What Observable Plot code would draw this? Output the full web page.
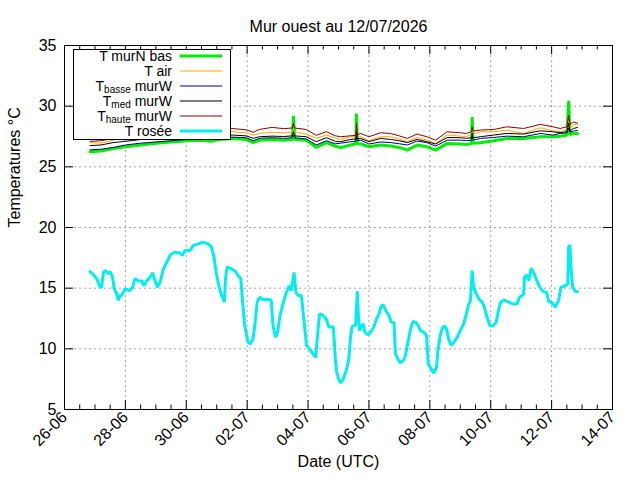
<!DOCTYPE html>
<html>
<head>
<meta charset="utf-8">
<script src="https://cdn.jsdelivr.net/npm/d3@7"></script>
<script src="https://cdn.jsdelivr.net/npm/@observablehq/plot@0.6"></script>
<style>
  html, body { margin: 0; padding: 0; background: white; }
</style>
</head>
<body>
<div id="chart"></div>
<script>
// ---------- DATA ----------
const titleText = "Mur ouest au 12/07/2026";
const xLabel = "Date (UTC)";
const yLabel = "Temperatures °C";

// days since 26-06-2026 00:00 UTC
const xTickDays = [0, 2, 4, 6, 8, 10, 12, 14, 16, 18];
const xTickLabels = ["26-06", "28-06", "30-06", "02-07", "04-07", "06-07", "08-07", "10-07", "12-07", "14-07"];
const yTicks = [5, 10, 15, 20, 25, 30, 35];

// Wall / air temperatures share one time base
const wallDays = [0.84, 1.2, 1.6, 2.0, 2.5, 3.0, 3.5, 4.0, 4.5, 4.8,
  5.1, 5.5, 5.97, 6.2, 6.4, 6.82, 7.2, 7.48, 7.52, 7.56,
  7.94, 8.27, 8.6, 8.9, 9.07, 9.4, 9.57, 9.59, 9.62, 9.73,
  10.0, 10.38, 10.71, 11.0, 11.26, 11.58, 11.9, 12.19, 12.57, 13.0,
  13.2, 13.37, 13.39, 13.42, 13.66, 14.1, 14.53, 15.08, 15.63, 16.04,
  16.28, 16.5, 16.56, 16.6, 16.72, 16.85];

const tMurNBas = [26.25, 26.3, 26.5, 26.65, 26.8, 26.95, 27.05, 27.15, 27.2, 27.1,
  27.25, 27.34, 27.26, 27.0, 27.2, 27.26, 27.2, 27.26, 29.2, 27.26,
  27.2, 26.6, 27.0, 26.7, 26.6, 26.8, 26.9, 29.4, 26.9, 26.88,
  26.66, 26.8, 26.71, 26.6, 26.38, 26.8, 26.66, 26.38, 26.93, 26.88,
  26.85, 26.9, 29.1, 26.95, 26.99, 27.15, 27.34, 27.34, 27.48, 27.48,
  27.53, 27.6, 30.44, 27.65, 27.75, 27.75];

const tAir = [27.0, 26.95, 27.2, 27.4, 27.5, 27.65, 27.8, 27.85, 27.9, 27.75,
  27.9, 27.9, 27.8, 27.6, 27.75, 27.85, 27.8, 27.85, 28.0, 27.85,
  27.7, 27.34, 27.62, 27.35, 27.26, 27.48, 27.5, 27.7, 27.5, 27.48,
  27.15, 27.48, 27.48, 27.3, 27.07, 27.42, 27.2, 26.93, 27.62, 27.53,
  27.5, 27.7, 27.9, 27.7, 27.89, 27.89, 28.03, 27.75, 28.22, 27.97,
  27.89, 28.1, 28.8, 28.15, 28.5, 28.45];

const tBasseMurW = [26.4, 26.45, 26.6, 26.8, 26.95, 27.05, 27.15, 27.25, 27.35, 27.25,
  27.4, 27.45, 27.4, 27.15, 27.35, 27.4, 27.35, 27.4, 27.6, 27.4,
  27.3, 26.8, 27.15, 26.9, 26.95, 27.07, 27.1, 27.5, 27.15, 27.2,
  26.88, 27.05, 27.0, 26.9, 26.8, 27.12, 27.0, 26.71, 27.2, 27.2,
  27.15, 27.2, 27.5, 27.2, 27.34, 27.42, 27.53, 27.48, 27.75, 27.62,
  27.75, 27.8, 28.2, 27.85, 27.95, 28.0];

const tMedMurW = [26.75, 26.8, 27.0, 27.1, 27.25, 27.35, 27.45, 27.55, 27.6, 27.5,
  27.6, 27.62, 27.55, 27.35, 27.48, 27.53, 27.5, 27.55, 27.9, 27.55,
  27.48, 27.07, 27.4, 27.1, 27.07, 27.26, 27.3, 27.9, 27.3, 27.34,
  27.07, 27.34, 27.26, 27.15, 27.0, 27.26, 27.07, 26.88, 27.42, 27.4,
  27.35, 27.4, 27.8, 27.4, 27.48, 27.62, 27.75, 27.7, 27.97, 27.89,
  27.81, 27.9, 28.6, 27.95, 28.16, 28.25];

const tHauteMurW = [27.1, 27.15, 27.35, 27.5, 27.7, 27.85, 28.0, 28.05, 28.1, 28.0,
  28.15, 28.16, 28.05, 27.85, 28.08, 28.25, 28.15, 28.2, 28.6, 28.2,
  28.08, 27.6, 27.9, 27.55, 27.48, 27.56, 27.6, 28.6, 27.65, 27.75,
  27.48, 27.81, 27.75, 27.55, 27.34, 27.7, 27.48, 27.2, 27.89, 27.81,
  27.75, 27.9, 28.3, 27.95, 28.03, 28.08, 28.3, 28.16, 28.5, 28.3,
  28.16, 28.3, 29.26, 28.5, 28.7, 28.6];

// Dew point has its own time base
const roseeDays = [0.84, 0.95, 1.06, 1.17, 1.22, 1.28, 1.33, 1.44, 1.5, 1.58,
  1.63, 1.72, 1.76, 1.83, 1.88, 1.99, 2.15, 2.24, 2.32, 2.43,
  2.54, 2.61, 2.7, 2.81, 2.9, 2.95, 3.05, 3.14, 3.25, 3.36,
  3.47, 3.63, 3.79, 3.87, 3.96, 4.12, 4.23, 4.39, 4.54, 4.72,
  4.83, 4.91, 5.0, 5.08, 5.16, 5.25, 5.29, 5.34, 5.48, 5.62,
  5.7, 5.79, 5.85, 5.92, 6.03, 6.1, 6.19, 6.25, 6.33, 6.41,
  6.52, 6.69, 6.79, 6.85, 6.93, 7.0, 7.07, 7.16, 7.27, 7.38,
  7.45, 7.54, 7.6, 7.67, 7.78, 7.86, 7.95, 8.05, 8.16, 8.25,
  8.33, 8.38, 8.49, 8.6, 8.68, 8.83, 8.9, 8.94, 9.02, 9.07,
  9.16, 9.23, 9.29, 9.34, 9.4, 9.45, 9.56, 9.62, 9.65, 9.69,
  9.75, 9.81, 9.87, 9.97, 10.05, 10.16, 10.25, 10.33, 10.4, 10.47,
  10.55, 10.66, 10.73, 10.82, 10.87, 10.95, 11.02, 11.13, 11.2, 11.28,
  11.37, 11.45, 11.53, 11.62, 11.69, 11.8, 11.89, 11.95, 12.04, 12.13,
  12.22, 12.26, 12.33, 12.4, 12.48, 12.55, 12.62, 12.7, 12.79, 12.9,
  13.0, 13.11, 13.2, 13.28, 13.33, 13.39, 13.44, 13.5, 13.61, 13.72,
  13.79, 13.88, 13.97, 14.07, 14.18, 14.24, 14.32, 14.43, 14.59, 14.73,
  14.86, 14.95, 15.03, 15.08, 15.11, 15.19, 15.25, 15.33, 15.41, 15.52,
  15.61, 15.72, 15.83, 15.91, 16.01, 16.12, 16.23, 16.31, 16.45, 16.53,
  16.56, 16.6, 16.64, 16.69, 16.78, 16.85];

const tRosee = [16.37, 16.1, 15.77, 15.08, 15.1, 16.3, 16.46, 16.2, 16.37, 15.9,
  14.95, 14.5, 14.0, 14.4, 14.4, 14.95, 14.8, 15.08, 15.8, 15.6,
  15.6, 15.2, 15.6, 15.9, 16.26, 15.77, 15.08, 15.5, 16.6, 17.14,
  17.75, 17.97, 17.9, 17.7, 18.1, 18.1, 18.5, 18.65, 18.8, 18.65,
  18.4, 17.55, 16.04, 15.08, 14.4, 13.85, 15.77, 16.73, 16.6, 16.37,
  16.04, 15.8, 13.85, 11.9, 10.55, 10.4, 10.8, 11.9, 13.85, 14.26,
  14.07, 14.07, 14.0, 11.9, 10.96, 11.37, 12.6, 13.57, 14.53, 15.2,
  14.8, 16.3, 14.67, 14.4, 14.4, 12.47, 10.27, 10.0, 9.59, 9.3,
  11.65, 12.88, 12.75, 12.47, 11.8, 11.8, 9.1, 8.08, 7.4, 7.2,
  7.53, 8.02, 8.6, 9.17, 11.1, 11.87, 11.92, 14.75, 12.9, 11.5,
  11.8, 12.06, 11.37, 11.15, 11.37, 11.8, 12.47, 12.88, 13.5, 13.63,
  13.16, 12.75, 12.2, 12.2, 9.6, 9.17, 8.85, 9.04, 9.45, 10.55,
  11.65, 12.25, 12.2, 11.92, 11.5, 11.37, 11.1, 8.76, 8.35, 8.0,
  8.5, 9.7, 10.96, 11.65, 11.9, 11.65, 10.8, 10.27, 10.55, 10.96,
  11.5, 12.06, 12.9, 13.7, 13.9, 16.45, 15.08, 14.67, 14.12, 13.85,
  13.43, 12.6, 11.92, 11.87, 12.2, 13.0, 13.8, 14.04, 13.85, 13.7,
  13.7, 14.26, 14.4, 14.53, 15.9, 16.1, 15.6, 16.65, 16.26, 15.6,
  15.08, 14.73, 14.67, 13.9, 13.8, 13.43, 14.0, 15.08, 15.2, 15.36,
  18.38, 18.57, 16.6, 15.08, 14.73, 14.73];

// ---------- BUILD ----------
const base = Date.UTC(2026, 5, 26);
const toDate = d => new Date(base + d * 864e5);
const xTicks = xTickDays.map(toDate);
const minorTicks = d3.range(0, 18.01, 0.5).filter(d => d % 2 !== 0).map(toDate);

const series = [
  {name: "murN", days: wallDays, vals: tMurNBas,   color: "#00ee00", w: 3},
  {name: "air",  days: wallDays, vals: tAir,       color: "#ffa500", w: 1},
  {name: "basse",days: wallDays, vals: tBasseMurW, color: "#000080", w: 1},
  {name: "med",  days: wallDays, vals: tMedMurW,   color: "#000000", w: 1},
  {name: "haute",days: wallDays, vals: tHauteMurW, color: "#8b0000", w: 1},
  {name: "rosee",days: roseeDays, vals: tRosee,    color: "#00eeee", w: 3}
];

const lineMarks = series.map(s => Plot.line(
  s.days.map((d, i) => ({date: toDate(d), v: s.vals[i]})),
  {x: "date", y: "v", stroke: s.color, strokeWidth: s.w, strokeLinejoin: "miter"}
));

const W = 640, H = 480, ML = 64, MR = 28, MT = 45, MB = 71;
const FW = W - ML - MR, FH = H - MT - MB;
const gridStyle = {stroke: "#a0a0a0", strokeOpacity: 1, strokeWidth: 1, strokeDasharray: "2,3"};

const svg = Plot.plot({
  width: W, height: H,
  marginLeft: ML, marginRight: MR, marginTop: MT, marginBottom: MB,
  style: {fontFamily: "'Liberation Sans', Arial, sans-serif", fontSize: "16px", background: "white", color: "black"},
  x: {type: "utc", domain: [toDate(0), toDate(18)]},
  y: {domain: [5, 35]},
  marks: [
    Plot.gridX(xTicks, gridStyle),
    Plot.gridY(yTicks, gridStyle),
    ...lineMarks,
    Plot.frame({stroke: "black", strokeWidth: 1}),
    // major ticks (inward, mirrored)
    Plot.tickX(xTicks, {x: d => d, stroke: "black", insetTop: FH - 9}),
    Plot.tickX(xTicks, {x: d => d, stroke: "black", insetBottom: FH - 9}),
    Plot.tickX(minorTicks, {x: d => d, stroke: "black", insetTop: FH - 4.5}),
    Plot.tickX(minorTicks, {x: d => d, stroke: "black", insetBottom: FH - 4.5}),
    Plot.tickY(yTicks, {y: d => d, stroke: "black", insetRight: FW - 9}),
    Plot.tickY(yTicks, {y: d => d, stroke: "black", insetLeft: FW - 9}),
    Plot.axisX({ticks: xTicks, tickSize: 0, tickPadding: 5, tickRotate: -45,
      tickFormat: d => xTickLabels[xTicks.findIndex(t => +t === +d)], label: null, fontSize: 16}),
    Plot.axisY({ticks: yTicks, tickSize: 0, tickPadding: 8, label: null, fontSize: 16}),
    Plot.text([titleText], {frameAnchor: "top", dy: -25, text: d => d, fontSize: 16}),
    Plot.text([xLabel], {frameAnchor: "bottom", dy: 57, text: d => d, fontSize: 16}),
    Plot.text([yLabel], {frameAnchor: "left", dx: -50, rotate: -90, text: d => d, fontSize: 16})
  ]
});

// ---------- LEGEND ----------
const legendEntries = [
  {main: "T murN bas", sub: null, rest: null},
  {main: "T air", sub: null, rest: null},
  {main: "T", sub: "basse", rest: " murW"},
  {main: "T", sub: "med", rest: " murW"},
  {main: "T", sub: "haute", rest: " murW"},
  {main: "T rosée", sub: null, rest: null}
];
const g = d3.select(svg).append("g")
  .attr("font-family", "'Liberation Sans', Arial, sans-serif")
  .attr("font-size", 14);
g.append("rect").attr("x", 73.5).attr("y", 49.5).attr("width", 157).attr("height", 90)
  .attr("fill", "white").attr("stroke", "black");
legendEntries.forEach((e, i) => {
  const y = 56 + 15 * i;
  const t = g.append("text").attr("x", 172).attr("y", y + 5).attr("text-anchor", "end");
  if (e.sub) {
    t.append("tspan").text(e.main);
    t.append("tspan").attr("dy", 2).attr("font-size", 10).text(e.sub);
    t.append("tspan").attr("dy", -2).text(e.rest);
  } else {
    t.text(e.main);
  }
  g.append("line").attr("x1", 180).attr("x2", 222).attr("y1", y).attr("y2", y)
    .attr("stroke", series[i].color).attr("stroke-width", series[i].w);
});

document.getElementById("chart").appendChild(svg);
</script>
</body>
</html>
